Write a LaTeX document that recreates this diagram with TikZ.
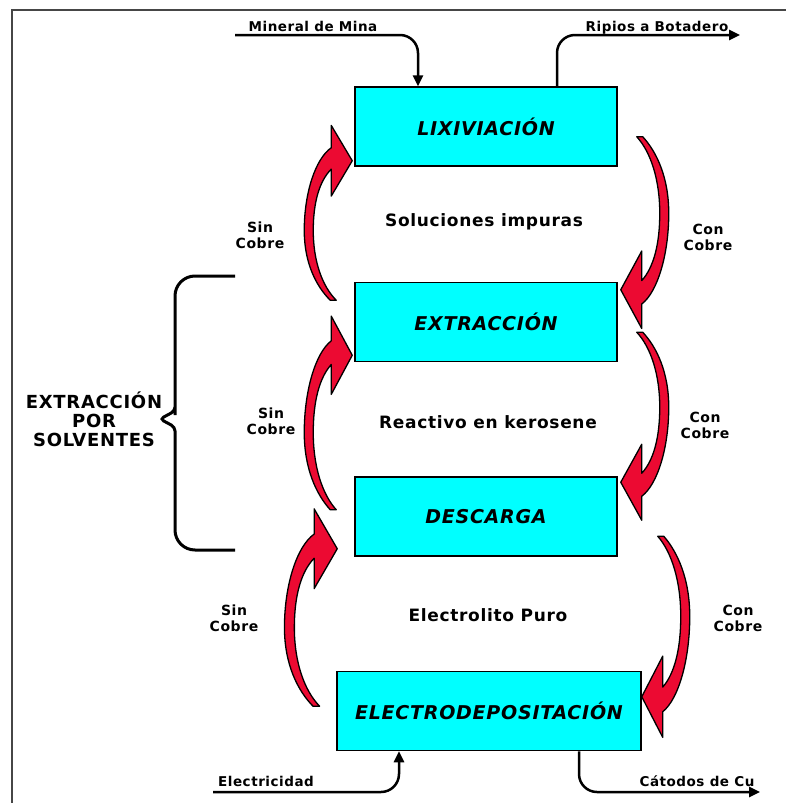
\documentclass[tikz,border=0pt]{standalone}
\usepackage{fontspec}
\setmainfont{DejaVu Sans}[LetterSpace=4]
\usepackage{tikz}
\usetikzlibrary{positioning,arrows.meta}

\definecolor{boxcyan}{RGB}{0,255,255}
\definecolor{cobrered}{RGB}{236,10,50}
\definecolor{framegray}{RGB}{70,70,70}

% red curved arrow, tip at the local origin, tail 150 below
\newcommand{\cobrearrow}[1]{%
  \begin{scope}[#1]
    \filldraw[cobre] (0,0) -- (-21,-38) -- (-21,-14)
      .. controls (-37,-2) and (-48,35) .. (-48,75)
      .. controls (-48,110) and (-36,135) .. (-22,150)
      -- (-16,150)
      .. controls (-30,135) and (-39,108) .. (-39,75)
      .. controls (-39,45) and (-33,22) .. (-21,9)
      -- (-21,38) -- cycle;
  \end{scope}}

\begin{document}
\begin{tikzpicture}
  [x=1pt,y=-1pt,
   procbox/.style={draw, line width=1.5pt, fill=boxcyan, minimum width=262pt, minimum height=79pt,
     font=\fontsize{19}{23}\selectfont\bfseries\itshape},
   midlabel/.style={font=\fontsize{17}{20}\selectfont\bfseries},
   sidelabel/.style={align=center, font=\fontsize{14}{16}\selectfont\bfseries},
   flowlabel/.style={anchor=base, inner sep=0pt, font=\fontsize{13.5}{16}\selectfont\bfseries},
   flow/.style={line width=2.5pt, rounded corners=18pt, -{Triangle[length=11pt,width=10pt]}},
   cobre/.style={fill=cobrered, draw=black, line width=1.3pt, line join=round},
   solvbrace/.style={line width=3pt}]
  \useasboundingbox (0,0) rectangle (786,803);
  \draw[framegray, line width=1.5pt] (786,10) -- (12,10) -- (12,803);

  % process boxes
  \node[procbox] (lix) at (486,126.5) {LIXIVIACIÓN};
  \node[procbox, below=115pt of lix] (ext) {EXTRACCIÓN};
  \node[procbox, below=114pt of ext] (des) {DESCARGA};
  \node[procbox, below=114pt of des, xshift=3pt, minimum width=304pt] (ele) {ELECTRODEPOSITACIÓN};

  % streams between the boxes
  \node[midlabel] (sol) at (484,222) {Soluciones impuras};
  \node[midlabel] (rea) at (488,422) {Reactivo en kerosene};
  \node[midlabel] (elp) at (488,615) {Electrolito Puro};

  \node[sidelabel] (sin1) at (260,235) {Sin\\Cobre};
  \node[sidelabel] (sin2) at (271,421) {Sin\\Cobre};
  \node[sidelabel] (sin3) at (234,618) {Sin\\Cobre};
  \node[sidelabel] (con1) at (708,237) {Con\\Cobre};
  \node[sidelabel] (con2) at (705,425) {Con\\Cobre};
  \node[sidelabel] (con3) at (738,618) {Con\\Cobre};

  \cobrearrow{shift={(lix.south west)}, shift={(-2,-6)}, yscale=0.93}
  \cobrearrow{shift={(ext.south west)}, shift={(-2,-7)}, yscale=1.03}
  \cobrearrow{shift={(des.south west)}, shift={(-17,-8)}, xscale=1.1, yscale=1.05}
  \cobrearrow{shift={(ext.north east)}, shift={(3,8)}, rotate=180, yscale=1.02}
  \cobrearrow{shift={(des.north east)}, shift={(3,6)}, rotate=180}
  \cobrearrow{shift={(ele.north east)}, shift={(0,26)}, rotate=180, yscale=1.07}

  % inputs and outputs
  \coordinate (minin) at (235,35);
  \coordinate (ripout) at (740,35);
  \coordinate (elecin) at (213,792);
  \coordinate (catout) at (760,792);
  \node[flowlabel] (minlab) at (313,31) {Mineral de Mina};
  \node[flowlabel] (riplab) at (657,31) {Ripios a Botadero};
  \node[flowlabel] (eleclab) at (266,786) {Electricidad};
  \node[flowlabel] (catlab) at (697,786) {Cátodos de Cu};
  \draw[flow] (minin) -| ([xshift=-68pt]lix.north);
  \draw[flow] ([xshift=71pt]lix.north) |- (ripout);
  \draw[flow] (elecin) -| ([xshift=-90pt]ele.south);
  \draw[flow] ([xshift=90pt]ele.south) |- (catout);

  % solvent extraction brace
  \draw[solvbrace] (235,276) [rounded corners=20pt] -- (175,276) -- (175,395)
    [rounded corners=4pt] -- (175,411) -- (160,419) -- (175,427) -- (175,445)
    [rounded corners=20pt] -- (175,550) -- (235,550);
  \node[align=center, font=\fontsize{18}{19}\selectfont\bfseries] (sx) at (94,419)
    {EXTRACCIÓN\\POR\\SOLVENTES};
\end{tikzpicture}
\end{document}
